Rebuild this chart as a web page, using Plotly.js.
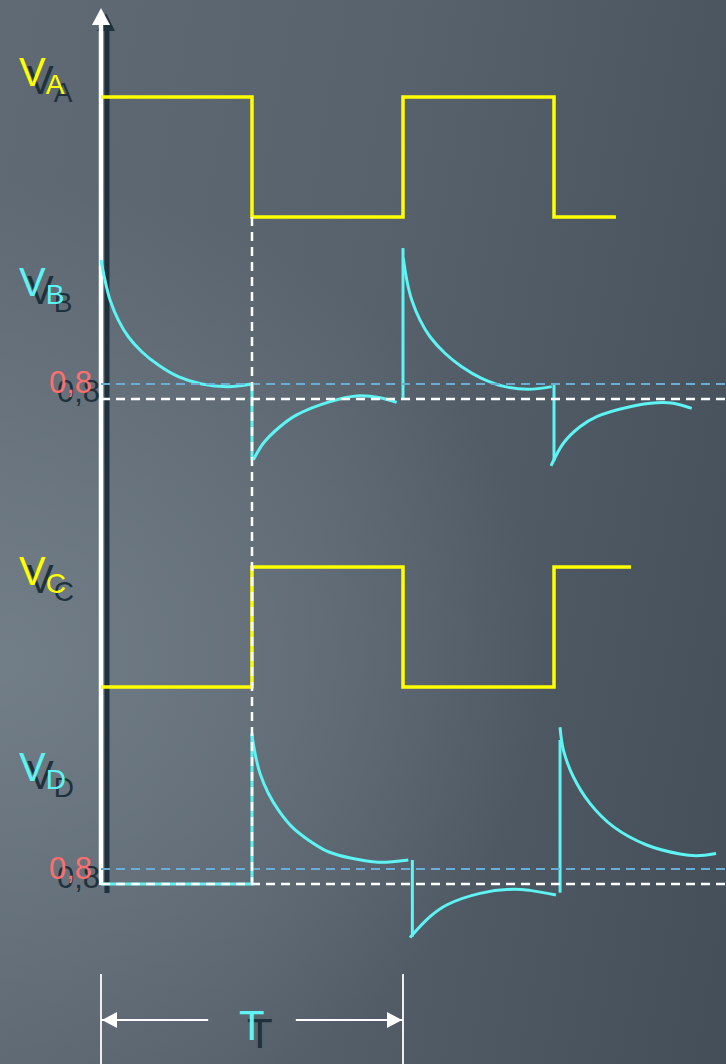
<!DOCTYPE html>
<html><head><meta charset="utf-8">
<script src="https://cdn.plot.ly/plotly-3.0.1.min.js"></script>
<style>
html,body{margin:0;padding:0;width:726px;height:1064px;overflow:hidden;
background:
 radial-gradient(ellipse 100% 60% at 0% 62%, rgba(118,130,139,0.85) 0%, rgba(118,130,139,0) 75%),
 linear-gradient(100deg, #5f6a74 0%, #57626c 45%, #434e59 100%);}
#chart{width:726px;height:1064px;}
</style></head><body><div id="chart"></div>
<script>
// time axis in half-periods (T/2); voltages in relative units
const vaTime  = [0, 1, 2, 3, 3.41];
const vaLevel = [1, 0, 1, 0, 0];
const vcTime  = [0, 1, 2, 3, 3.51];
const vcLevel = [0, 1, 0, 1, 1];

const vbCurveTime = [0.000,0.026,0.060,0.115,0.181,0.270,0.380,0.512,0.667,0.843,0.998, null,
  1.009,1.075,1.185,1.296,1.517,1.693,1.848,1.958, null,
  2.002,2.025,2.058,2.113,2.179,2.278,2.389,2.521,2.675,2.830,2.985, null,
  2.980,3.062,3.172,3.283,3.503,3.680,3.790,3.912];
const vbCurveVolt = [7.41,6.35,5.28,4.21,3.32,2.52,1.81,1.19,0.80,0.66,0.80, null,
  -3.25,-2.36,-1.48,-0.85,-0.14,0.16,0.07,-0.18, null,
  7.52,6.35,5.28,4.21,3.32,2.44,1.72,1.10,0.66,0.52,0.66, null,
  -3.57,-2.36,-1.48,-0.94,-0.41,-0.20,-0.23,-0.50];
const vbJumpTime = [1,1,null,2,2,null,3,3];
const vbJumpVolt = [0.8,-3.25,null,0,8.05,null,0.8,-3.3];

const vdCurveTime = [1.000,1.020,1.053,1.108,1.174,1.263,1.373,1.505,1.660,1.836,2.035, null,
  2.046,2.179,2.289,2.510,2.731,2.841,3.013, null,
  3.040,3.062,3.128,3.238,3.393,3.614,3.834,3.945,4.073];
const vdCurveVolt = [7.95,6.97,5.90,4.84,3.95,3.06,2.35,1.72,1.37,1.16,1.28, null,
  -2.86,-1.74,-1.12,-0.50,-0.28,-0.34,-0.59, null,
  8.36,7.15,5.72,4.30,3.06,2.08,1.60,1.51,1.63];
const vdJumpTime = [0,1,1,null,2.062,2.062,null,3.040,3.040];
const vdJumpVolt = [0,0,8.05,null,1.28,-2.81,null,-0.46,7.68];

const thresholdVolt = 0.8;
const thresholdLabel = '0,8';
const periodLabel = 'T';
const signalLabels = ['V<sub>A</sub>','V<sub>B</sub>','V<sub>C</sub>','V<sub>D</sub>'];

// ---- layout geometry (pixels of the 726x1064 page) ----
const W = 726, H = 1064;
const X0PX = 101, UNITPX = 151;           // t=0 position, pixels per half period
const xRange = [-X0PX/UNITPX, (W-X0PX)/UNITPX];
function yRange(zeroPx, pxPerUnit){ const r1 = zeroPx/pxPerUnit; return [r1 - H/pxPerUnit, r1]; }
const rA = yRange(217,120), rB = yRange(399,18.75), rC = yRange(687,120), rD = yRange(884,18.75);
const yp = (r,v) => (v - r[0])/(r[1]-r[0]);
const P = py => 1 - py/H;
const PX = px => px/W;

const yellow = '#ffff00', cyan = '#5ef4f4', white = '#ffffff', blue = '#6aaed6', pink = '#ff6e6e', shade = '#1f313c';

const traces = [
  {x: vaTime, y: vaLevel, yaxis:'y', mode:'lines', line:{shape:'hv', color:yellow, width:3.5}},
  {x: vcTime, y: vcLevel, yaxis:'y3', mode:'lines', line:{shape:'hv', color:yellow, width:3.5}},
  {x: vbJumpTime, y: vbJumpVolt, yaxis:'y2', mode:'lines', line:{color:cyan, width:3}},
  {x: vbCurveTime, y: vbCurveVolt, yaxis:'y2', mode:'lines', line:{shape:'spline', smoothing:1, color:cyan, width:3}},
  {x: vdJumpTime, y: vdJumpVolt, yaxis:'y4', mode:'lines', line:{color:cyan, width:3}},
  {x: vdCurveTime, y: vdCurveVolt, yaxis:'y4', mode:'lines', line:{shape:'spline', smoothing:1, color:cyan, width:3}}
];

const hidden = {visible:false, fixedrange:true};
const shapes = [];
// axis shadow and axis
shapes.push({type:'line', xref:'paper', yref:'paper', x0:PX(X0PX+6), x1:PX(X0PX+6), y0:P(30), y1:P(893), line:{color:shade, width:5}, layer:'below'});
shapes.push({type:'path', xref:'paper', yref:'paper', layer:'below', fillcolor:shade, line:{width:0},
  path:`M${PX(X0PX+5)},${P(13)} L${PX(X0PX-4)},${P(31)} L${PX(X0PX+14)},${P(31)} Z`});
shapes.push({type:'line', xref:'paper', yref:'paper', x0:PX(X0PX), x1:PX(X0PX), y0:P(22), y1:P(885), line:{color:white, width:4.5}, layer:'below'});
shapes.push({type:'path', xref:'paper', yref:'paper', layer:'below', fillcolor:white, line:{width:0},
  path:`M${PX(X0PX)},${P(8)} L${PX(X0PX-9)},${P(25)} L${PX(X0PX+9)},${P(25)} Z`});
// reference dashed lines
[['y2',rB],['y4',rD]].forEach(([ax,r])=>{
  shapes.push({type:'line', xref:'x', yref:ax, x0:0, x1:xRange[1], y0:thresholdVolt, y1:thresholdVolt, line:{color:blue, width:2.2, dash:'9px,6px'}, layer:'above'});
  shapes.push({type:'line', xref:'x', yref:ax, x0:0, x1:xRange[1], y0:0, y1:0, line:{color:white, width:2.5, dash:'9px,6px'}, layer:'above'});
});
shapes.push({type:'line', xref:'x', yref:'paper', x0:1, x1:1, y0:yp(rA,0), y1:yp(rD,0), line:{color:white, width:2.5, dash:'9px,6px'}, layer:'above'});
// period dimension
[0,2].forEach(t=>shapes.push({type:'line', xref:'x', yref:'paper', x0:t, x1:t, y0:P(974), y1:0, line:{color:'#eeeeee', width:2}}));
shapes.push({type:'line', xref:'x', yref:'paper', x0:0, x1:1-0.29, y0:P(1020), y1:P(1020), line:{color:white, width:2}});
shapes.push({type:'line', xref:'x', yref:'paper', x0:1+0.29, x1:2, y0:P(1020), y1:P(1020), line:{color:white, width:2}});
shapes.push({type:'path', xref:'x', yref:'paper', xsizemode:'pixel', ysizemode:'pixel', xanchor:0, yanchor:P(1020),
  path:'M1,0 L16,8 L16,-8 Z', fillcolor:white, line:{width:0}});
shapes.push({type:'path', xref:'x', yref:'paper', xsizemode:'pixel', ysizemode:'pixel', xanchor:2, yanchor:P(1020),
  path:'M-1,0 L-16,8 L-16,-8 Z', fillcolor:white, line:{width:0}});

const fam = '"Liberation Sans", Arial, sans-serif';
const sh = '8px 8px 0px ' + shade;
const annotations = [];
const labelTops = [58, 268, 557, 753];
const labelColors = [yellow, cyan, yellow, cyan];
signalLabels.forEach((txt,i)=>annotations.push({text:txt, xref:'paper', yref:'paper', x:PX(18), y:P(labelTops[i]-9),
  xanchor:'left', yanchor:'top', showarrow:false, borderpad:0,
  font:{family:fam, size:40, color:labelColors[i], shadow:sh}}));
[[rB,371],[rD,857]].forEach(([r,top])=>annotations.push({text:thresholdLabel, xref:'paper', yref:'paper', x:PX(93), y:P(top-7),
  xanchor:'right', yanchor:'top', showarrow:false, borderpad:0,
  font:{family:fam, size:31, color:pink, shadow:'8px 9px 0px '+shade}}));
annotations.push({text:periodLabel, xref:'x', yref:'paper', x:1, y:P(1010-9), xanchor:'center', yanchor:'top', showarrow:false, borderpad:0,
  font:{family:fam, size:42, color:cyan, shadow:'8px 8px 0px '+shade}});

const layout = {
  width:W, height:H, margin:{l:0,r:0,t:0,b:0,pad:0},
  paper_bgcolor:'rgba(0,0,0,0)', plot_bgcolor:'rgba(0,0,0,0)',
  showlegend:false,
  xaxis:Object.assign({range:xRange}, hidden),
  yaxis:Object.assign({range:rA}, hidden),
  yaxis2:Object.assign({range:rB, overlaying:'y'}, hidden),
  yaxis3:Object.assign({range:rC, overlaying:'y'}, hidden),
  yaxis4:Object.assign({range:rD, overlaying:'y'}, hidden),
  shapes, annotations
};
Plotly.newPlot('chart', traces, layout, {staticPlot:true, displayModeBar:false});
</script></body></html>
